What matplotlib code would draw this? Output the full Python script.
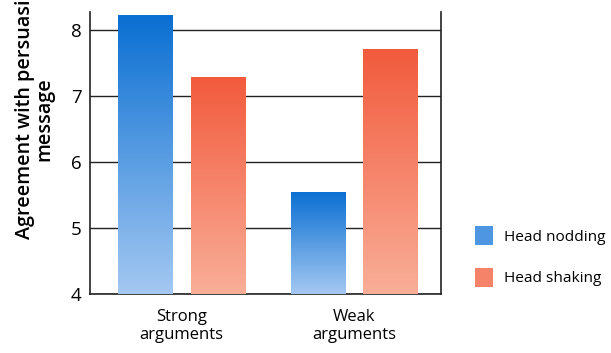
import numpy as np
import matplotlib.pyplot as plt
from matplotlib.patches import Patch
from matplotlib.colors import LinearSegmentedColormap

plt.rcParams['font.family'] = ['Open Sans', 'DejaVu Sans']

groups = ['Strong\narguments', 'Weak\narguments']
nodding = [8.22, 5.55]
shaking = [7.29, 7.71]
series_names = ['Head nodding', 'Head shaking']
yticks = [4, 5, 6, 7, 8]

# gradient colours: top -> bottom
blue_cm = LinearSegmentedColormap.from_list('b', ['#0a6fd2', '#a4c8f2'])
red_cm = LinearSegmentedColormap.from_list('r', ['#f25a3c', '#f9ae98'])

fig = plt.figure(figsize=(6.11, 3.53), dpi=100)
ax = fig.add_axes([0.1473, 0.167, 0.5745, 0.799])

x = np.arange(len(groups))
w = 0.313
off = 0.21
ymin, ymax = 4, 8.27

grad = np.linspace(0, 1, 256).reshape(-1, 1)


def gradient_bars(xs, vals, cmap):
    bars = ax.bar(xs, np.array(vals) - ymin, w, bottom=ymin, color='none',
                  edgecolor='none', zorder=3)
    for b in bars:
        x0, y0 = b.get_x(), b.get_y()
        im = ax.imshow(grad, cmap=cmap, aspect='auto', zorder=3,
                       extent=[x0, x0 + b.get_width(), y0, y0 + b.get_height()],
                       origin='upper')
        im.set_clip_path(b)
    return bars


gradient_bars(x - off, nodding, blue_cm)
gradient_bars(x + off, shaking, red_cm)

ax.set_xlim(-0.53, 1.504)
ax.set_ylim(ymin, ymax)
ax.set_yticks(yticks)
ax.set_xticks(x)
ax.set_xticklabels(groups, fontsize=12, linespacing=1.15)
ax.tick_params(axis='y', length=0, pad=6, labelsize=13.5)
ax.tick_params(axis='x', length=0, pad=11)
ax.grid(axis='y', color='#222222', linewidth=1.0, zorder=1)
ax.set_axisbelow(True)
ax.spines['top'].set_visible(False)
for s in ['left', 'right', 'bottom']:
    ax.spines[s].set_linewidth(1.2)
    ax.spines[s].set_color('#222222')

fig.text(0.057, 0.662, 'Agreement with persuasi\nmessage', rotation=90,
         ha='center', va='center', fontsize=14.2, fontweight='semibold',
         linespacing=0.98, multialignment='center')

handles = [Patch(facecolor='#4f96e2'), Patch(facecolor='#f5836a')]
fig.legend(handles, series_names, loc='lower left',
           bbox_to_anchor=(0.755, 0.148), frameon=False, fontsize=11.1,
           handlelength=1.15, handleheight=1.55, handletextpad=0.75,
           labelspacing=1.45)

fig.savefig('out.png', dpi=100)
